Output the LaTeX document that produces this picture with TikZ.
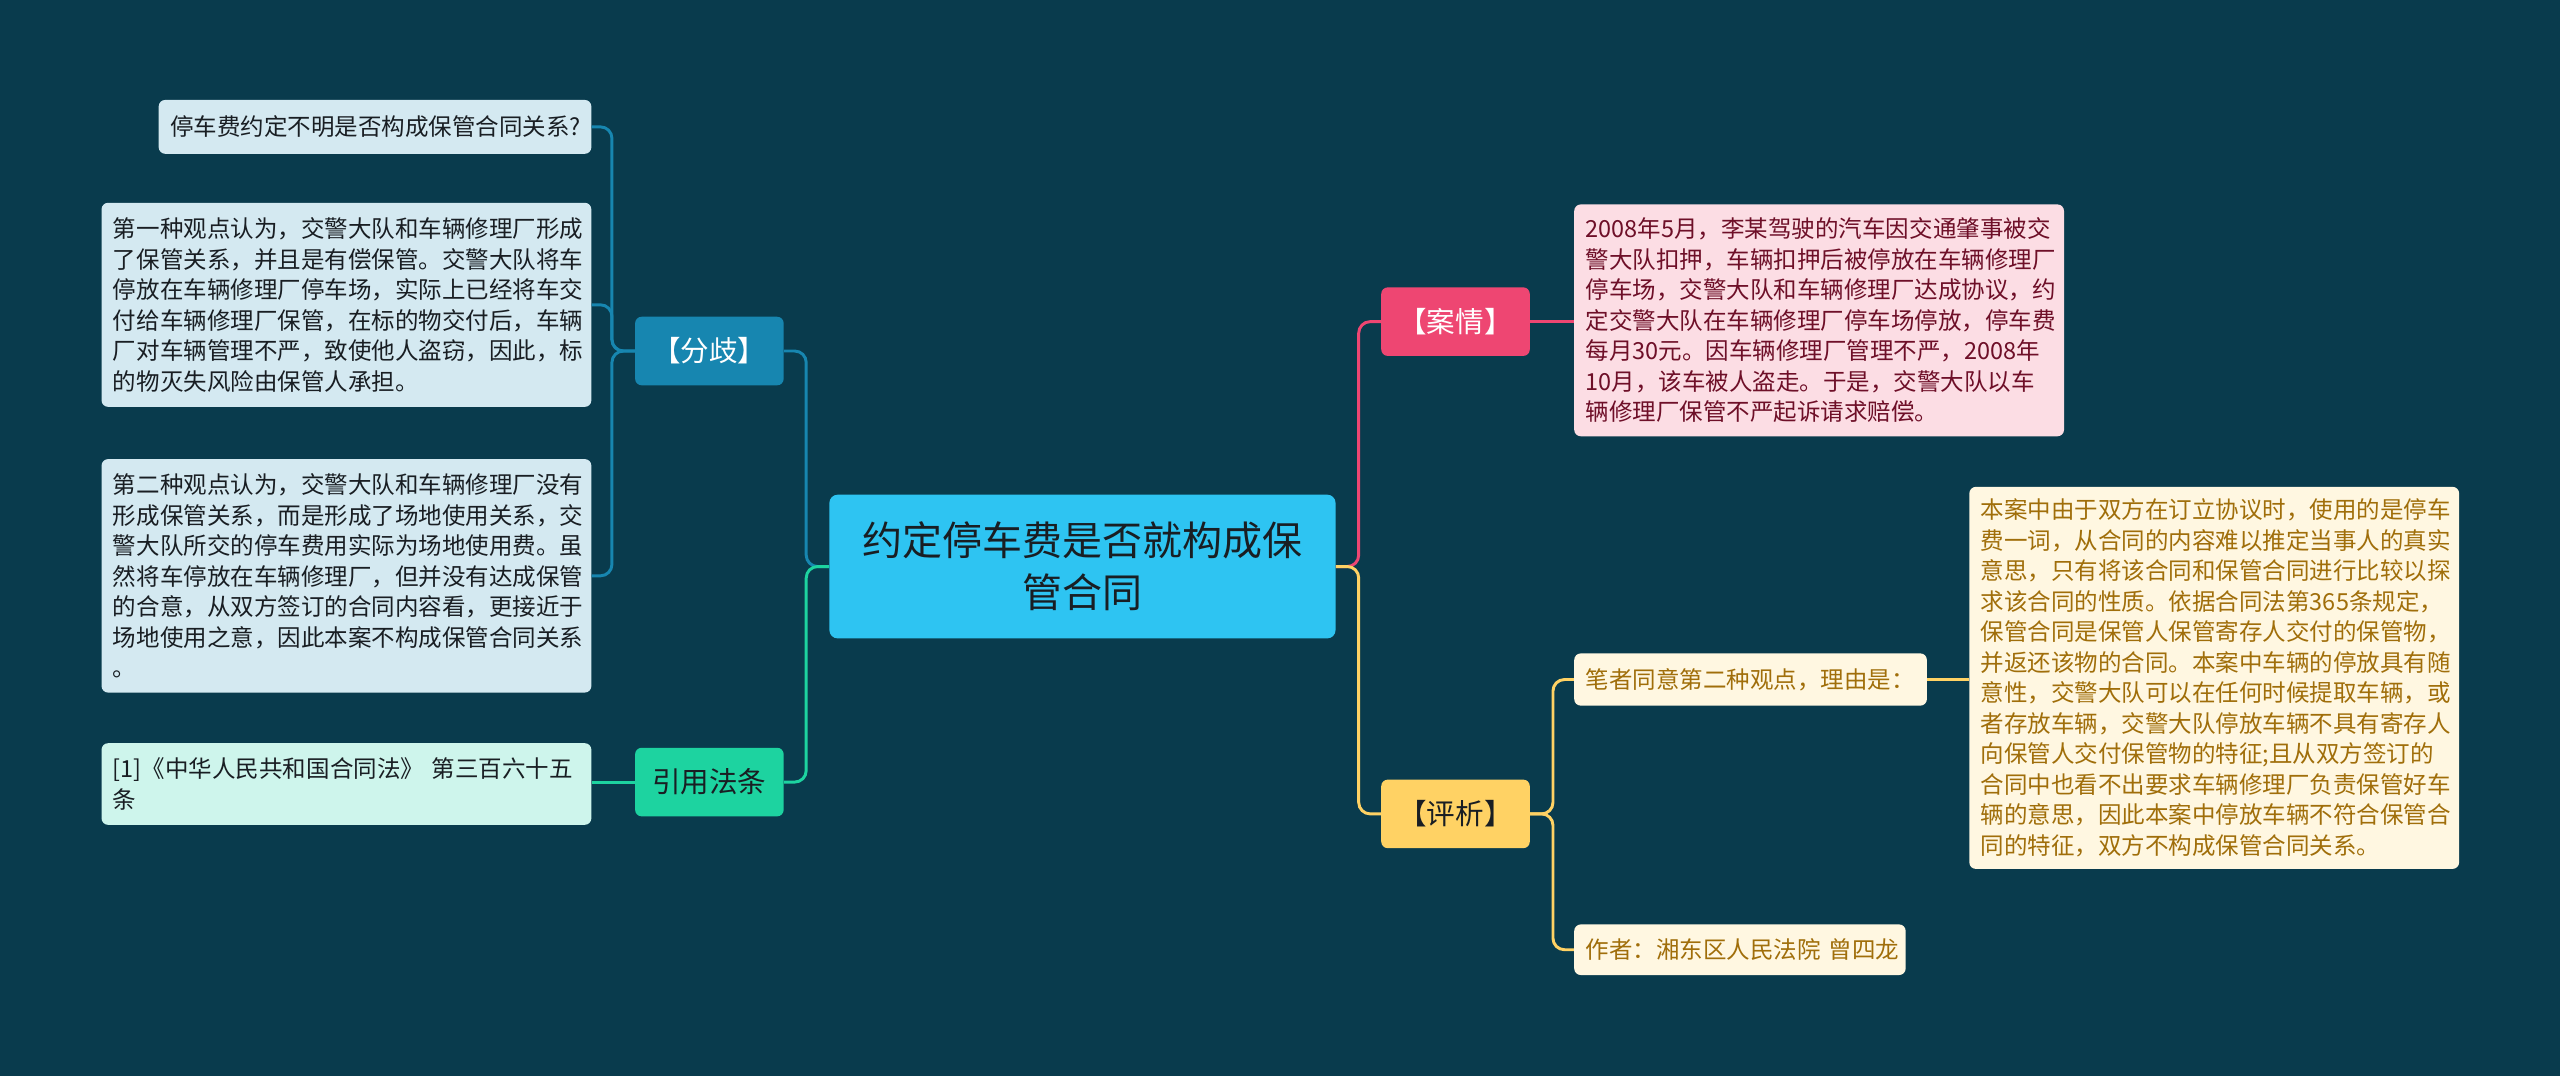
\documentclass[tikz,border=0pt]{standalone}
\usepackage{fontspec}
\setmainfont{Noto Sans CJK SC}
\usepackage{xcolor}
\definecolor{mapbg}{RGB}{9,59,77}
\definecolor{rootcyan}{RGB}{46,196,242}
\definecolor{splitblue}{RGB}{23,134,176}
\definecolor{lawgreen}{RGB}{29,211,160}
\definecolor{casepink}{RGB}{238,70,114}
\definecolor{notegold}{RGB}{255,210,100}
\definecolor{leafblue}{RGB}{212,233,241}
\definecolor{leafmint}{RGB}{206,245,236}
\definecolor{leafpink}{RGB}{252,221,228}
\definecolor{leafcream}{RGB}{255,247,225}
\definecolor{inkred}{RGB}{110,15,40}
\definecolor{inkgold}{RGB}{160,110,10}
\definecolor{inkdark}{RGB}{25,30,35}
\usetikzlibrary{positioning}
\tikzset{
  rootnode/.style={rectangle,rounded corners=5pt,fill=rootcyan,text=inkdark,align=center,
                   minimum width=310pt,minimum height=88pt,font=\fontsize{24.5}{32}\selectfont},
  topic/.style   ={rectangle,rounded corners=4pt,minimum width=91pt,minimum height=42pt,
                   inner sep=0pt,font=\fontsize{17.5}{20}\selectfont},
  leaf/.style    ={rectangle,rounded corners=4pt,align=left,inner xsep=7pt,inner ysep=0pt,
                   anchor=north west,font=\fontsize{14.4}{18.7}\selectfont},
  link/.style    ={line width=1.8pt,rounded corners=7pt},
}
\begin{document}
\begin{tikzpicture}[x=1pt,y=-1pt]
  \fill[mapbg] (0,0) rectangle (1568,659);
  \useasboundingbox (0,0) rectangle (1568,659);
  % centre and main topics
  \node[rootnode] (root) at (663,347) {约定停车费是否就构成保\\管合同};
  \node[topic,fill=splitblue,text=white] (fenqi) at (434.5,215) {【分歧】};
  \node[topic,fill=lawgreen,text=inkdark] (yinyong) at (434.5,479) {引用法条};
  \node[topic,fill=casepink,text=white] (anqing) at (891.5,197) {【案情】};
  \node[topic,fill=notegold,text=inkdark] (pingxi) at (891.5,498.5) {【评析】};
  % left leaves
  \node[leaf,fill=leafblue,text=inkdark,text width=251pt,minimum height=33pt] (question) at (97,61)
    {停车费约定不明是否构成保管合同关系?};
  \node[leaf,fill=leafblue,text=inkdark,text width=286pt,minimum height=125pt] (viewa) at (62,124)
    {第一种观点认为，交警大队和车辆修理厂形成\\了保管关系，并且是有偿保管。交警大队将车\\停放在车辆修理厂停车场，实际上已经将车交\\付给车辆修理厂保管，在标的物交付后，车辆\\厂对车辆管理不严，致使他人盗窃，因此，标\\的物灭失风险由保管人承担。};
  \node[leaf,fill=leafblue,text=inkdark,text width=286pt,minimum height=143pt] (viewb) at (62,281)
    {第二种观点认为，交警大队和车辆修理厂没有\\形成保管关系，而是形成了场地使用关系，交\\警大队所交的停车费用实际为场地使用费。虽\\然将车停放在车辆修理厂，但并没有达成保管\\的合意，从双方签订的合同内容看，更接近于\\场地使用之意，因此本案不构成保管合同关系\\。};
  \node[leaf,fill=leafmint,text=inkdark,text width=286pt,minimum height=50pt] (lawref) at (62,455)
    {[1]《中华人民共和国合同法》 第三百六十五\\条};
  % right leaves
  \node[leaf,fill=leafpink,text=inkred,text width=286pt,minimum height=142pt] (facts) at (964,125)
    {2008年5月，李某驾驶的汽车因交通肇事被交\\警大队扣押，车辆扣押后被停放在车辆修理厂\\停车场，交警大队和车辆修理厂达成协议，约\\定交警大队在车辆修理厂停车场停放，停车费\\每月30元。因车辆修理厂管理不严，2008年\\10月，该车被人盗走。于是，交警大队以车\\辆修理厂保管不严起诉请求赔偿。};
  \node[leaf,fill=leafcream,text=inkgold,text width=202pt,minimum height=32pt] (agree) at (964,400)
    {笔者同意第二种观点，理由是：};
  \node[leaf,fill=leafcream,text=inkgold,text width=189pt,minimum height=31pt] (author) at (964,566)
    {作者：湘东区人民法院~曾四龙};
  \node[leaf,fill=leafcream,text=inkgold,text width=286pt,minimum height=234pt] (reason) at (1206,298)
    {本案中由于双方在订立协议时，使用的是停车\\费一词，从合同的内容难以推定当事人的真实\\意思，只有将该合同和保管合同进行比较以探\\求该合同的性质。依据合同法第365条规定，\\保管合同是保管人保管寄存人交付的保管物，\\并返还该物的合同。本案中车辆的停放具有随\\意性，交警大队可以在任何时候提取车辆，或\\者存放车辆，交警大队停放车辆不具有寄存人\\向保管人交付保管物的特征;且从双方签订的\\合同中也看不出要求车辆修理厂负责保管好车\\辆的意思，因此本案中停放车辆不符合保管合\\同的特征，双方不构成保管合同关系。};
  % connectors
  \draw[link,splitblue] (root.west) -- ++(-14,0) |- (fenqi.east);
  \draw[link,lawgreen] (root.west) -- ++(-14,0) |- (yinyong.east);
  \draw[link,casepink] (root.east) -- ++(14,0) |- (anqing.west);
  \draw[link,notegold] (root.east) -- ++(14,0) |- (pingxi.west);
  \foreach \leafname in {question,viewa,viewb}
    \draw[link,splitblue] (fenqi.west) -- ++(-14,0) |- (\leafname.east);
  \draw[link,lawgreen] (yinyong.west) -- (yinyong.west -| lawref.east);
  \draw[link,casepink] (anqing.east) -- (anqing.east -| facts.west);
  \foreach \leafname in {agree,author}
    \draw[link,notegold] (pingxi.east) -- ++(14,0) |- (\leafname.west);
  \draw[link,notegold] (agree.east) -- (agree.east -| reason.west);
\end{tikzpicture}
\end{document}
